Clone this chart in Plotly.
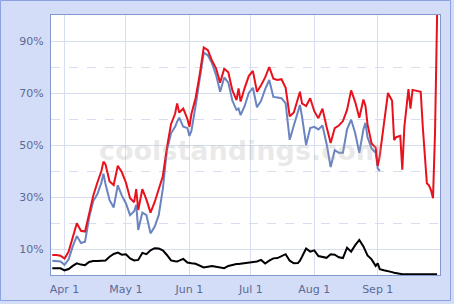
import plotly.graph_objects as go

dates = ["2008-03-26", "2008-03-28", "2008-03-30", "2008-04-01", "2008-04-03", "2008-04-05",
         "2008-04-07", "2008-04-09", "2008-04-11", "2008-04-13", "2008-04-15", "2008-04-17",
         "2008-04-19", "2008-04-20", "2008-04-21", "2008-04-23", "2008-04-25", "2008-04-27",
         "2008-04-29", "2008-05-01", "2008-05-03", "2008-05-05", "2008-05-06", "2008-05-07",
         "2008-05-09", "2008-05-11", "2008-05-13", "2008-05-15", "2008-05-17", "2008-05-19",
         "2008-05-21", "2008-05-23", "2008-05-25", "2008-05-26", "2008-05-27", "2008-05-29",
         "2008-05-31", "2008-06-01", "2008-06-02", "2008-06-04", "2008-06-06", "2008-06-08",
         "2008-06-10", "2008-06-12", "2008-06-14", "2008-06-16", "2008-06-18", "2008-06-20",
         "2008-06-22", "2008-06-24", "2008-06-25", "2008-06-26", "2008-06-28", "2008-06-30",
         "2008-07-02", "2008-07-04", "2008-07-06", "2008-07-08", "2008-07-10", "2008-07-12",
         "2008-07-14", "2008-07-16", "2008-07-18", "2008-07-20", "2008-07-22", "2008-07-24",
         "2008-07-25", "2008-07-26", "2008-07-28", "2008-07-30", "2008-08-01", "2008-08-03",
         "2008-08-05", "2008-08-07", "2008-08-09", "2008-08-11", "2008-08-13", "2008-08-15",
         "2008-08-17", "2008-08-19", "2008-08-21", "2008-08-23", "2008-08-25", "2008-08-26",
         "2008-08-27", "2008-08-29", "2008-08-31", "2008-09-01", "2008-09-02", "2008-09-04",
         "2008-09-06", "2008-09-08", "2008-09-09", "2008-09-10", "2008-09-12", "2008-09-13",
         "2008-09-14", "2008-09-16", "2008-09-17", "2008-09-18", "2008-09-20", "2008-09-22",
         "2008-09-23", "2008-09-24", "2008-09-25", "2008-09-26", "2008-09-27", "2008-09-28",
         "2008-09-29", "2008-09-30"]

red = [7.7, 7.7, 7.4, 6.3, 9.0, 15.0,
       19.9, 17.0, 16.7, 23.5, 30.5, 35.5,
       40.0, 43.6, 42.5, 36.0, 34.6, 42.0,
       39.5, 35.5, 29.5, 28.0, 33.0, 25.0,
       33.0, 29.0, 24.0, 28.0, 33.0, 38.0,
       49.0, 58.0, 62.0, 66.0, 62.5, 64.0,
       60.0, 57.0, 62.0, 68.0, 77.0, 87.5,
       86.5, 82.5, 79.5, 74.0, 79.3, 78.0,
       71.0, 67.3, 71.8, 66.7, 72.0, 76.5,
       78.5, 70.5, 73.0, 76.0, 80.0, 75.5,
       75.0, 75.3, 72.0, 61.0, 62.5, 68.0,
       70.5, 66.0, 65.0, 68.0, 63.0, 60.3,
       64.0, 57.0, 50.8, 56.5, 57.5, 59.2,
       63.5, 71.0, 66.5, 60.5, 67.5, 65.0,
       58.0, 50.6, 49.0, 42.0, 46.0, 58.0,
       70.0, 67.0, 51.9, 53.0, 53.5, 40.5,
       57.0, 71.5, 64.0, 71.2, 70.8, 70.5,
       57.0, 47.0, 35.3, 34.5, 32.7, 29.5,
       55.0, 100.0]

blue = [5.5, 5.4, 5.2, 3.9, 6.0, 11.0,
        15.0, 12.3, 12.8, 22.0, 28.5, 31.0,
        35.5, 39.0, 35.0, 28.8, 26.0, 34.5,
        30.5, 27.5, 23.0, 24.5, 27.0, 17.3,
        24.0, 23.0, 16.0, 18.5, 23.0, 33.0,
        48.0, 54.5, 57.0, 59.0, 60.5, 57.0,
        56.5, 53.5, 55.5, 65.0, 75.5, 85.5,
        84.5, 81.5, 77.0, 70.5, 76.0, 74.0,
        67.0, 63.5, 64.0, 61.5, 65.0, 70.0,
        72.0, 64.5, 67.0, 71.5, 75.0, 68.5,
        68.3, 68.0, 66.0, 52.0, 57.5, 63.0,
        65.4, 61.0, 50.0, 56.5, 57.0, 56.0,
        57.5, 50.5, 41.5, 48.0, 47.0, 47.0,
        56.0, 59.8, 54.5, 47.0, 56.0, 58.5,
        53.0, 48.7, 47.0, 41.0, 40.0, None,
        None, None, None, None, None, None,
        None, None, None, None, None, None,
        None, None, None, None, None, None,
        None, None]

black = [2.6, 2.6, 2.6, 1.8, 2.3, 3.5,
         4.5, 4.0, 3.8, 5.0, 5.4, 5.4,
         5.4, 5.5, 5.6, 7.0, 8.1, 8.6,
         7.8, 8.0, 6.4, 5.6, 5.8, 5.8,
         8.5, 8.0, 9.5, 10.3, 10.2, 9.5,
         7.7, 5.6, 5.3, 5.2, 5.5, 6.2,
         4.8, 4.6, 4.5, 4.3, 3.5, 2.9,
         3.2, 3.5, 3.2, 2.8, 2.6, 3.5,
         4.0, 4.2, 4.2, 4.3, 4.6, 4.6,
         5.0, 5.2, 5.8, 4.4, 5.5, 6.4,
         6.5, 7.3, 8.0, 5.5, 4.5, 4.6,
         5.5, 7.0, 10.2, 9.0, 9.5, 7.3,
         7.0, 6.6, 8.0, 7.8, 6.8, 6.5,
         10.5, 9.0, 11.5, 13.5, 11.0, 9.5,
         7.5, 6.0, 3.5, 4.5, 2.2, 1.8,
         1.3, 1.1, 0.9, 0.7, 0.4, 0.3,
         0.3, 0.3, 0.3, 0.3, 0.3, 0.3,
         0.3, 0.3, 0.3, 0.3, 0.3, 0.3,
         0.3, 0.3]

x_ticks = ["2008-04-01", "2008-05-01", "2008-06-01", "2008-07-01", "2008-08-01", "2008-09-01"]
x_tick_labels = ["Apr 1", "May 1", "Jun 1", "Jul 1", "Aug 1", "Sep 1"]
y_ticks = [10, 30, 50, 70, 90]
y_tick_labels = ["10%", "30%", "50%", "70%", "90%"]

W, H = 454, 304
ML, MR, MT, MB = 51, 14, 15, 29
PW, PH = W - ML - MR, H - MT - MB

fig = go.Figure()
fig.add_trace(go.Scatter(x=dates, y=black, mode="lines",
                         line=dict(color="#000000", width=2), hoverinfo="skip"))
fig.add_trace(go.Scatter(x=dates, y=blue, mode="lines",
                         line=dict(color="#6a84bf", width=2), hoverinfo="skip"))
fig.add_trace(go.Scatter(x=dates, y=red, mode="lines",
                         line=dict(color="#e8111c", width=2), hoverinfo="skip"))

grid = "#d6def0"
fig.update_layout(
    width=W, height=H,
    margin=dict(l=ML, r=MR, t=MT, b=MB, pad=0, autoexpand=False),
    paper_bgcolor="#d3ddf7",
    plot_bgcolor="#ffffff",
    showlegend=False,
    font=dict(family="DejaVu Sans, Verdana, sans-serif", size=11, color="#5b6a96"),
    xaxis=dict(
        type="date",
        range=["2008-03-25 09:00", "2008-10-01 10:00"],
        tickvals=x_ticks, ticktext=x_tick_labels,
        showgrid=True, gridcolor=grid, gridwidth=1,
        showline=True, linecolor="#8397cf", linewidth=1, mirror=True,
        ticks="outside", ticklen=4, tickcolor="rgba(0,0,0,0)",
        zeroline=False, fixedrange=True, automargin=False,
    ),
    yaxis=dict(
        range=[0, 100],
        tickvals=y_ticks, ticktext=y_tick_labels,
        showgrid=True, gridcolor=grid, gridwidth=1,
        minor=dict(tick0=0, dtick=20, showgrid=True, gridcolor=grid,
                   griddash="dash", gridwidth=1, ticks=""),
        showline=True, linecolor="#8397cf", linewidth=1, mirror=True,
        ticks="outside", ticklen=4, tickcolor="rgba(0,0,0,0)",
        zeroline=False, fixedrange=True, automargin=False,
    ),
    annotations=[dict(
        xref="paper", yref="paper", x=0.49, y=0.48,
        text="<b>coolstandings.com</b>", showarrow=False,
        font=dict(family="DejaVu Sans, Verdana, sans-serif", size=27,
                  color="rgba(170,170,170,0.25)"),
    )],
    shapes=[dict(
        type="rect", xref="paper", yref="paper", layer="above",
        x0=(0.5 - ML) / PW, x1=(450.5 - ML) / PW,
        y0=-(MB - 3.5) / PH, y1=1 + (MT - 0.5) / PH,
        line=dict(color="#8aa2e2", width=1), fillcolor="rgba(0,0,0,0)",
    )],
)

fig.write_html("out.html")
